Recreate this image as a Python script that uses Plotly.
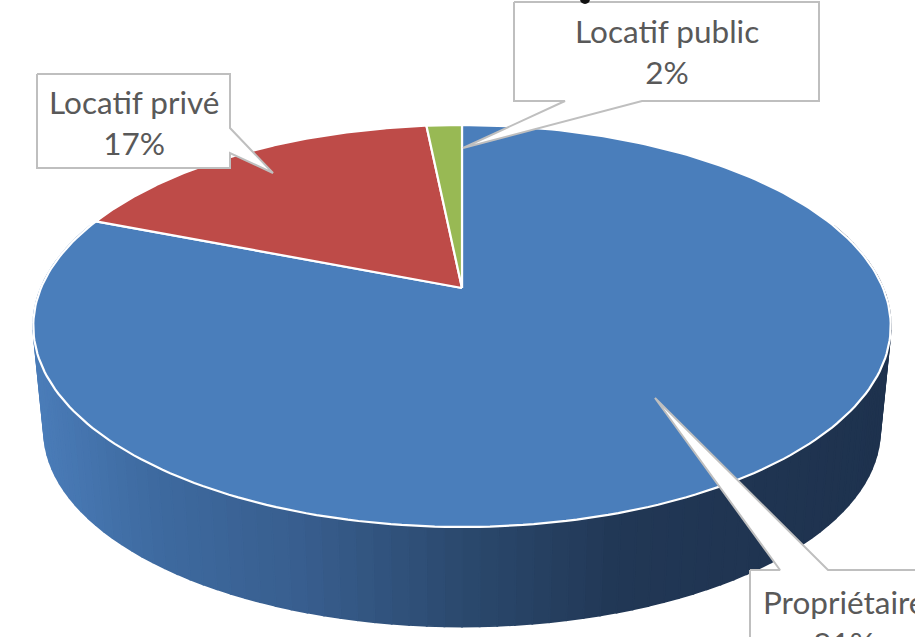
import numpy as np
import plotly.graph_objects as go

categories = ["Propriétaire", "Locatif privé", "Locatif public"]
values = [81.0, 17.4, 1.6]
slice_colors = ["#4a7ebb", "#be4b48", "#98b954"]
wall_stops = [(33, (74, 124, 184)), (150, (62, 106, 160)), (300, (56, 94, 142)),
              (460, (43, 73, 110)), (620, (33, 55, 85)), (891, (30, 50, 78))]
label_font = "Lato"
label_color = "#595959"
box_line = "#bfbfbf"

CX, APEX_Y, A, B, K = 462.0, 288.0, 421.0, 193.8, 0.189


def project(theta, r=1.0, scale=1.0, dy=0.0):
    u, v = r * np.sin(theta), r * np.cos(theta)
    w = 1 + K * v
    return CX + scale * A * u / w, APEX_Y + dy - scale * B * v / w


fig = go.Figure()


def poly(xs, ys, fill, line=None, width=0):
    fig.add_trace(go.Scatter(
        x=xs, y=ys, mode="lines", fill="toself", fillcolor=fill,
        line=dict(color=line or fill, width=width if line else 1.8),
        hoverinfo="skip", showlegend=False))


def wall_color(x):
    xs = [s[0] for s in wall_stops]
    c = [np.interp(x, xs, [s[1][i] for s in wall_stops]) for i in range(3)]
    return "rgb(%d,%d,%d)" % tuple(int(round(ch)) for ch in c)


# side wall
edges = np.radians(np.linspace(70, 290, 111))
for t0, t1 in zip(edges[:-1], edges[1:]):
    x0, y0 = project(t0)
    x1, y1 = project(t1)
    x2, y2 = project(t1, scale=0.975, dy=105.5)
    x3, y3 = project(t0, scale=0.975, dy=105.5)
    poly([x0, x1, x2, x3, x0], [y0, y1, y2, y3, y0], wall_color((x0 + x1) / 2))

# top face slices, clockwise from 12 o'clock
fractions = np.cumsum([0] + values) / sum(values)
for i, cat in enumerate(categories):
    t = 2 * np.pi * np.linspace(fractions[i], fractions[i + 1], 240)
    ex, ey = project(t)
    xs = np.concatenate([[CX], ex, [CX]])
    ys = np.concatenate([[APEX_Y], ey, [APEX_Y]])
    poly(xs, ys, slice_colors[i], "#ffffff", 2.2)

# callouts
callouts = {
    "Locatif privé": dict(box=(37, 230, 74, 168), text=(134, 122)),
    "Locatif public": dict(box=(514, 819, 2, 101), text=(667, 51)),
    "Propriétaire": dict(box=(750, 960, 570, 680), text=(844, 622)),
}
pointers = {
    "Locatif privé": [(230, 128), (273, 173), (230, 153)],
    "Locatif public": [(642, 101), (463, 148), (565, 101)],
    "Propriétaire": [(828, 570), (655, 398), (780, 570)],
}
order = ["Locatif privé", "Locatif public", "Propriétaire"]
for cat in order:
    l, r, t, b = callouts[cat]["box"]
    p = pointers[cat]
    if cat == "Locatif privé":
        xs = [l, r, p[0][0], p[1][0], p[2][0], r, l, l]
        ys = [t, t, p[0][1], p[1][1], p[2][1], b, b, t]
    elif cat == "Locatif public":
        xs = [l, r, r, p[0][0], p[1][0], p[2][0], l, l]
        ys = [t, t, b, b, p[1][1], b, b, t]
    else:
        xs = [l, p[2][0], p[1][0], p[0][0], r, r, l, l]
        ys = [t, t, p[1][1], t, t, b, b, t]
    poly(xs, ys, "#ffffff", box_line, 2)

for cat in order:
    i = categories.index(cat)
    fig.add_annotation(
        x=callouts[cat]["text"][0], y=callouts[cat]["text"][1],
        text=f"{cat}<br>{round(values[i])}%", showarrow=False,
        xref="x", yref="y", xanchor="center", yanchor="middle", align="center",
        font=dict(family=label_font, size=31.5, color=label_color))

# tail of a cropped title glyph at the top edge
fig.add_shape(type="circle", x0=580, x1=590, y0=-6, y1=4, xref="x", yref="y",
              fillcolor="#111111", line=dict(width=0), layer="above")

fig.update_layout(
    width=915, height=637, margin=dict(l=0, r=0, t=0, b=0),
    paper_bgcolor="#ffffff", plot_bgcolor="#ffffff", showlegend=False,
    xaxis=dict(range=[0, 915], visible=False, fixedrange=True),
    yaxis=dict(range=[637, 0], visible=False, fixedrange=True),
)
fig.write_html("out.html", config=dict(displayModeBar=False),
               post_script="document.body.style.margin='0';")
